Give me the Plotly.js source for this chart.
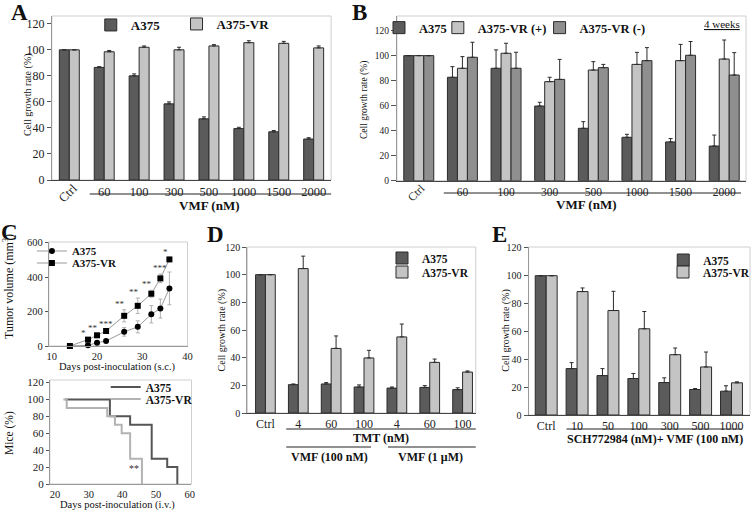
<!DOCTYPE html>
<html><head><meta charset="utf-8">
<script src="https://cdn.plot.ly/plotly-3.0.1.min.js"></script>
<style>html,body{margin:0;padding:0;background:#fff}#chart{width:755px;height:513px}</style>
</head><body><div id="chart"></div><script>
// ---------- Panel A ----------
const aLabels = ["Ctrl","60","100","300","500","1000","1500","2000"];
const aA375 = [100,86.5,80,58.5,47,39.5,37,31.5];
const aA375Err = [0,0.6,1.5,1.5,1.5,1,1,1];
const aVR = [100,98.5,102,100,103,105.5,105,101.5];
const aVRErr = [0,1,1,2,1,1.5,1.5,1.5];
// ---------- Panel B ----------
const bLabels = ["Ctrl","60","100","300","500","1000","1500","2000"];
const bA375 = [100,82.7,89.9,59.7,41.9,34.7,31,27.7];
const bA375Err = [0,8.5,14.7,3,5.3,2.4,2.7,8.8];
const bVRp = [100,89.9,101.9,79.2,88.5,93,96,97.3];
const bVRpErr = [0,9.3,8,3.5,6.7,9.6,13,15.2];
const bVRm = [100,98.7,89.9,81,90.4,96,100.3,84.5];
const bVRmErr = [0,12,12.8,16,2.6,10.4,11,17.9];
// ---------- Panel C (tumor volume) ----------
const cDays = [14,18,20,22,26,29,32,34,36];
const cA375 = [0,4,19,29,82,111,184,217,334];
const cA375Err = [0,3,5,6,25,35,50,55,95];
const cVR = [0,37,62,87,175,233,303,392,502];
const cVRErr = [0,5,6,8,35,45,20,25,8];
const cStars = ["","*","**","***","**","**","**","***","*"];
// ---------- Panel C (survival) ----------
const sDaysA375 = [23,36.3,42.3,48.7,53.3,56.3];
const sMiceA375 = [100,80,70,30,20,0];
const sDaysVR = [22.5,23.5,35.5,37.8,39.8,42.3,45.8];
const sMiceVR = [100,90,80,70,60,30,0];
// ---------- Panel D ----------
const dLabels = ["Ctrl","4","60","100","4","60","100"];
const dA375 = [100,20.5,21,18.8,18,18.5,16.9];
const dA375Err = [0,0.5,1,1.5,0.8,1.3,1.3];
const dVR = [100,104.4,46.7,39.8,55,36.6,29.6];
const dVRErr = [0,9,9,5.5,9.3,2.4,0.8];
// ---------- Panel E ----------
const eLabels = ["Ctrl","10","50","100","300","500","1000"];
const eA375 = [100,33.3,28.3,26.2,23.3,18.3,17.1];
const eA375Err = [0,4.3,5,3.6,3.4,0.7,3.9];
const eVR = [100,88.6,75,61.9,43.3,34.5,23.1];
const eVRErr = [0,2.6,13.8,12.4,4.8,10.7,0.7];

const W = 755, H = 513;
const px = v => v / W;
const py = v => 1 - v / H;
const SERIF = "Liberation Serif, Times New Roman, serif";
const DARK = "#5b5b5b", LIGHT = "#c4c4c4", MID = "#8f8f8f", EDGE = "#2b2b2b";
const idx = arr => arr.map((_, i) => i);
const zeros = arr => arr.map(() => 0);

function bar(xa, ya, labels, vals, errs, color, name, offset, width, legend) {
  return {
    type: "bar", x: idx(labels), y: vals, name: name, xaxis: xa, yaxis: ya,
    offset: offset, width: width, legend: legend,
    marker: {color: color, line: {color: EDGE, width: 1}},
    error_y: {type: "data", symmetric: false, array: errs, arrayminus: zeros(errs),
              color: EDGE, thickness: 1, width: 2}
  };
}

const traces = [
  bar("x","y", aLabels, aA375, aA375Err, DARK, "A375", -0.286, 0.286, "legend"),
  bar("x","y", aLabels, aVR, aVRErr, LIGHT, "A375-VR", 0, 0.286, "legend2"),
  bar("x2","y2", bLabels, bA375, bA375Err, DARK, "A375", -0.343, 0.229, "legend3"),
  bar("x2","y2", bLabels, bVRp, bVRpErr, LIGHT, "A375-VR (+)", -0.114, 0.229, "legend4"),
  bar("x2","y2", bLabels, bVRm, bVRmErr, MID, "A375-VR (-)", 0.115, 0.229, "legend5"),
  {type:"scatter", mode:"lines+markers", x:cDays, y:cA375, name:"A375", xaxis:"x3", yaxis:"y3", legend:"legend6",
   line:{color:"#9a9a9a", width:1}, marker:{symbol:"circle", size:6, color:"#000"}, cliponaxis:false,
   error_y:{type:"data", array:cA375Err, color:"#b0b0b0", thickness:1, width:2}},
  {type:"scatter", mode:"lines+markers", x:cDays, y:cVR, name:"A375-VR", xaxis:"x3", yaxis:"y3", legend:"legend7",
   line:{color:"#9a9a9a", width:1}, marker:{symbol:"square", size:6, color:"#000"}, cliponaxis:false,
   error_y:{type:"data", array:cVRErr, color:"#b0b0b0", thickness:1, width:2}},
  {type:"scatter", mode:"lines", x:sDaysA375, y:sMiceA375, name:"A375", xaxis:"x4", yaxis:"y4", legend:"legend8",
   line:{color:"#555", width:2, shape:"hv"}, cliponaxis:false},
  {type:"scatter", mode:"lines", x:sDaysVR, y:sMiceVR, name:"A375-VR", xaxis:"x4", yaxis:"y4", legend:"legend9",
   line:{color:"#b3b3b3", width:2, shape:"hv"}, cliponaxis:false},
  bar("x5","y5", dLabels, dA375, dA375Err, DARK, "A375", -0.30, 0.30, "legend10"),
  bar("x5","y5", dLabels, dVR, dVRErr, LIGHT, "A375-VR", 0, 0.30, "legend11"),
  bar("x6","y6", eLabels, eA375, eA375Err, DARK, "A375", -0.355, 0.355, "legend12"),
  bar("x6","y6", eLabels, eVR, eVRErr, LIGHT, "A375-VR", 0, 0.355, "legend13")
];

function xAx(d0, d1, range, anchor, opts) {
  return Object.assign({
    domain: [px(d0), px(d1)], range: range, anchor: anchor,
    showgrid: false, zeroline: false, showline: true, linecolor: "#444", linewidth: 1,
    ticks: "", tickfont: {family: SERIF, size: 12, color: "#222"}, fixedrange: true
  }, opts || {});
}
function yAx(top, bottom, range, anchor, opts) {
  return Object.assign({
    domain: [py(bottom), py(top)], range: range, anchor: anchor,
    showgrid: false, zeroline: false, showline: true, linecolor: "#999", linewidth: 1,
    ticks: "outside", ticklen: 4, tickcolor: "#555",
    tickfont: {family: SERIF, size: 12, color: "#222"}, fixedrange: true
  }, opts || {});
}
// Ctrl is written separately (rotated) in A and B
const noCtrlVals = labels => idx(labels).slice(1);
const noCtrlText = labels => labels.slice(1);

const layout = {
  width: W, height: H, margin: {l: 0, r: 0, t: 0, b: 0},
  paper_bgcolor: "#fff", plot_bgcolor: "#fff", barmode: "overlay", showlegend: true,
  font: {family: SERIF, color: "#222"},
  // A
  xaxis: xAx(52, 332, [-0.5, 7.5], "y", {tickvals: noCtrlVals(aLabels), ticktext: noCtrlText(aLabels), tickfont:{family:SERIF,size:12.5,color:"#222"}}),
  yaxis: yAx(16, 180, [0, 126], "x", {tickvals: [0,20,40,60,80,100,120]}),
  // B
  xaxis2: xAx(398, 748, [-0.5, 7.5], "y2", {tickvals: noCtrlVals(bLabels), ticktext: noCtrlText(bLabels), tickfont:{family:SERIF,size:11.5,color:"#222"}}),
  yaxis2: yAx(16, 180.7, [0, 131.7], "x2", {tickvals: [0,20,40,60,80,100,120], ticklen: 5, tickfont:{family:SERIF,size:9.5,color:"#222"}}),
  // C top
  xaxis3: xAx(49, 188, [9.35, 40], "y3", {tickvals: [10,20,30,40], tickfont:{family:SERIF,size:10.5,color:"#222"}, linecolor:"#999"}),
  yaxis3: yAx(242, 346, [0, 603], "x3", {tickvals: [0,200,400,600], ticklen: 3, tickfont:{family:SERIF,size:10.5,color:"#222"}}),
  // C bottom
  xaxis4: xAx(50, 192, [18.5, 60.5], "y4", {tickvals: [20,30,40,50,60], tickfont:{family:SERIF,size:10.5,color:"#222"}, linecolor:"#999"}),
  yaxis4: yAx(380, 484, [0, 123], "x4", {tickvals: [0,20,40,60,80,100,120], ticklen: 3, tickfont:{family:SERIF,size:11,color:"#222"}}),
  // D
  xaxis5: xAx(248, 477, [-0.55, 6.4], "y5", {tickvals: idx(dLabels), ticktext: dLabels}),
  yaxis5: yAx(247, 413, [0, 120], "x5", {tickvals: [0,20,40,60,80,100,120], tickfont:{family:SERIF,size:10,color:"#222"}}),
  // E
  xaxis6: xAx(530, 752, [-0.57, 6.6], "y6", {tickvals: idx(eLabels), ticktext: eLabels}),
  yaxis6: yAx(247, 415, [0, 120.6], "x6", {tickvals: [0,20,40,60,80,100,120], tickfont:{family:SERIF,size:10,color:"#222"}}),
  shapes: [],
  annotations: []
};

// legends: one per series, placed where the reference shows them
function leg(textStartX, cy, size) {
  return {x: px(textStartX - 40), y: py(cy), xanchor: "left", yanchor: "middle",
          bgcolor: "rgba(0,0,0,0)", borderwidth: 0, itemwidth: 30,
          font: {family: SERIF, size: size, color: "#111", weight: "bold"}};
}
layout.legend = leg(131, 25, 13);
layout.legend2 = leg(217, 24, 13);
layout.legend3 = leg(420, 28, 12.5);
layout.legend4 = leg(479, 28, 12.5);
layout.legend5 = leg(581, 28, 12.5);
layout.legend6 = leg(72, 251, 11);
layout.legend7 = leg(72, 263, 11);
layout.legend8 = leg(146, 387, 11.5);
layout.legend9 = leg(146, 399, 11.5);
layout.legend10 = leg(423, 258, 11.5);
layout.legend11 = leg(423, 272, 11.5);
layout.legend12 = leg(705, 260, 11.5);
layout.legend13 = leg(705, 272, 11.5);

// frames around each plotting area
["", "2", "3", "4", "5", "6"].forEach(s => {
  layout.shapes.push({type: "rect", xref: "x" + s + " domain", yref: "y" + s + " domain",
    x0: 0, x1: 1, y0: 0, y1: 1, line: {color: "#cfcfcf", width: 1}, layer: "below"});
});
function hline(x0, x1, y) {
  layout.shapes.push({type: "line", xref: "paper", yref: "paper", x0: px(x0), x1: px(x1), y0: py(y), y1: py(y),
    line: {color: "#222", width: 1}});
}
hline(90, 332, 194);
hline(445, 743, 193);
hline(287, 477, 429);
hline(287, 372, 447);
hline(389, 477, 447);
hline(568, 744, 429);

function txt(text, x, y, size, opts) {
  layout.annotations.push(Object.assign({text: text, x: px(x), y: py(y), xref: "paper", yref: "paper",
    showarrow: false, xanchor: "center", yanchor: "middle",
    font: {family: SERIF, size: size, color: "#111"}}, opts || {}));
}
const B = (s) => "<b>" + s + "</b>";
// panel letters
txt(B("A"), 20, 12, 23);
txt(B("B"), 360, 12, 23);
txt(B("C"), 10, 232, 23);
txt(B("D"), 216, 235, 23);
txt(B("E"), 501, 235, 23);
// axis titles
txt("Cell growth rate (%)", 28, 95, 10, {textangle: -90});
txt("Cell growth rate (%)", 365, 100, 9.5, {textangle: -90});
txt("Tumor volume (mm<sup>3</sup>)", 8, 286, 12, {textangle: -90});
txt("Mice (%)", 9, 433, 11.5, {textangle: -90});
txt("Cell growth rate (%)", 223, 330, 10, {textangle: -90});
txt("Cell growth rate (%)", 507, 331, 10, {textangle: -90});
txt(B("VMF (nM)"), 210, 205, 13);
txt(B("VMF (nM)"), 588, 204, 13);
txt("Days post-inoculation (s.c.)", 118, 367, 10.5);
txt("Days post-inoculation (i.v.)", 118, 505, 10.5);
txt(B("TMT (nM)"), 382, 438, 12);
txt(B("VMF (100 nM)"), 330, 457, 12);
txt(B("VMF (1 μM)"), 432, 457, 12);
txt(B("SCH772984 (nM)+ VMF (100 nM)"), 657, 439, 12);
txt("<u>4 weeks</u>", 724, 24, 11);
// rotated Ctrl labels
layout.annotations.push({text: aLabels[0], xref: "x", yref: "y", x: 0, y: 0, yshift: -13, xshift: -1,
  textangle: -45, showarrow: false, font: {family: SERIF, size: 12.5, color: "#222"}});
layout.annotations.push({text: bLabels[0], xref: "x2", yref: "y2", x: 0, y: 0, yshift: -12, xshift: -3,
  textangle: -45, showarrow: false, font: {family: SERIF, size: 11.5, color: "#222"}});
// significance marks
cStars.forEach((s, i) => {
  if (!s) return;
  layout.annotations.push({text: s, xref: "x3", yref: "y3", x: cDays[i], y: cVR[i] + cVRErr[i],
    xshift: s.length === 3 ? 0 : -4, yshift: 0, yanchor: "bottom", showarrow: false, borderpad: 0,
    font: {family: SERIF, size: 9, color: "#333"}});
});
layout.annotations.push({text: "**", xref: "x4", yref: "y4", x: 43.5, y: 18, showarrow: false,
  font: {family: SERIF, size: 10, color: "#333"}});

Plotly.newPlot("chart", traces, layout, {staticPlot: true, displayModeBar: false});
</script></body></html>
